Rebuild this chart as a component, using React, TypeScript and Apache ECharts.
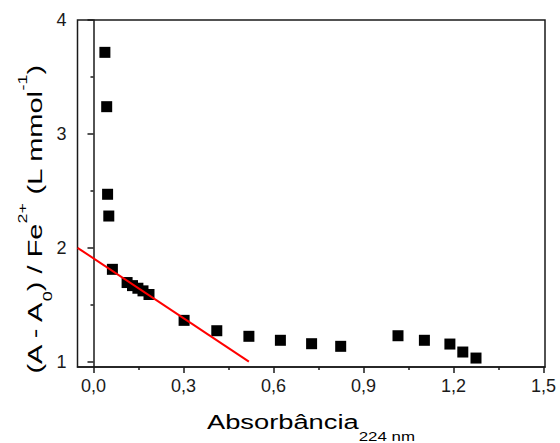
import React, { useEffect, useRef } from "react";
import * as echarts from "echarts";

const xValues = [0.038, 0.044, 0.047, 0.051, 0.063, 0.112, 0.13, 0.148, 0.165, 0.185, 0.302, 0.411, 0.518, 0.623, 0.727, 0.824, 1.015, 1.103, 1.188, 1.231, 1.275];
const yValues = [3.716, 3.239, 2.47, 2.279, 1.811, 1.695, 1.668, 1.645, 1.622, 1.59, 1.363, 1.272, 1.223, 1.188, 1.158, 1.135, 1.228, 1.188, 1.155, 1.085, 1.032];
const fitX = [-0.053, 0.518];
const fitY = [2.0, 1.0];
const xMajorTicks = [0, 0.3, 0.6, 0.9, 1.2, 1.5];
const xMinorTicks = [0.15, 0.45, 0.75, 1.05, 1.35];
const yMajorTicks = [1, 2, 3, 4];
const yMinorTicks = [1.5, 2.5, 3.5];

const FONT = "'Liberation Sans', Arial, Helvetica, sans-serif";
const INK = "#1a1a1a";

export default function App() {
  const ref = useRef<HTMLDivElement>(null);
  useEffect(() => {
    document.body.style.margin = "0";
    if (!ref.current) return;
    const chart = echarts.init(ref.current, undefined, { renderer: "svg" });
    const xMin = -0.0533, xMax = 1.505, yMin = 0.9535, yMax = 4;
    const axisBase = {
      type: "value" as const,
      splitLine: { show: false },
    };
    chart.setOption({
      animation: false,
      grid: {
        left: 77.5, top: 20, right: 15, bottom: 76,
        show: true, borderColor: INK, borderWidth: 1.5,
      },
      xAxis: [
        {
          ...axisBase, min: xMin, max: xMax, position: "bottom",
          axisLine: { show: true, lineStyle: { color: INK, width: 1.5 } },
          axisTick: { show: true, customValues: xMajorTicks, length: 6, lineStyle: { color: INK, width: 1.5 } },
          axisLabel: {
            customValues: xMajorTicks, margin: 10, color: INK, fontSize: 18, fontFamily: FONT,
            formatter: (v: number) => v.toFixed(1).replace(".", ","),
          },
        },
        {
          ...axisBase, min: xMin, max: xMax, position: "bottom",
          axisLine: { show: false },
          axisTick: { show: true, customValues: xMinorTicks, length: 3, lineStyle: { color: INK, width: 1.5 } },
          axisLabel: { show: false },
        },
      ],
      yAxis: [
        {
          ...axisBase, min: yMin, max: yMax, position: "left",
          axisLine: { show: true, lineStyle: { color: INK, width: 1.5 } },
          axisTick: { show: true, customValues: yMajorTicks, length: 6, lineStyle: { color: INK, width: 1.5 } },
          axisLabel: {
            customValues: yMajorTicks, margin: 11, color: INK, fontSize: 18, fontFamily: FONT,
            formatter: (v: number) => String(Math.round(v)),
          },
        },
        {
          ...axisBase, min: yMin, max: yMax, position: "left", offset: 0,
          axisLine: { show: false },
          axisTick: { show: true, customValues: yMinorTicks, length: 3, lineStyle: { color: INK, width: 1.5 } },
          axisLabel: { show: false },
        },
      ],
      series: [
        {
          type: "scatter",
          xAxisIndex: 0, yAxisIndex: 0,
          symbol: "rect", symbolSize: 11,
          itemStyle: { color: "#000", opacity: 1 },
          data: xValues.map((x, i) => [x, yValues[i]]),
          z: 2,
        },
        {
          type: "line",
          xAxisIndex: 0, yAxisIndex: 0,
          showSymbol: false, symbol: "none",
          lineStyle: { color: "#ff0000", width: 2 },
          data: fitX.map((x, i) => [x, fitY[i]]),
          z: 3,
        },
      ],
      graphic: [
        {
          type: "text",
          x: 311, y: 421.7,
          scaleX: 1.3,
          style: {
            text: "{m|Absorbância}{s|224 nm}",
            align: "center", verticalAlign: "middle",
            fill: "#000",
            rich: {
              m: { fontSize: 21, fontFamily: FONT, lineHeight: 42, verticalAlign: "middle", fill: "#000" },
              s: { fontSize: 13, fontFamily: FONT, lineHeight: 14, verticalAlign: "bottom", fill: "#000" },
            },
          },
        },
        {
          type: "text",
          x: 34.5, y: 220,
          rotation: Math.PI / 2,
          scaleX: 1.38,
          style: {
            text: "{m|(A - A}{b|0}{m|) / Fe}{p|2+}{m| (L mmol}{p|-1}{m|)}",
            align: "center", verticalAlign: "middle",
            fill: "#000",
            rich: {
              m: { fontSize: 21, fontFamily: FONT, lineHeight: 38, verticalAlign: "middle", fill: "#000" },
              p: { fontSize: 13, fontFamily: FONT, lineHeight: 13, verticalAlign: "top", fill: "#000" },
              b: { fontSize: 13, fontFamily: FONT, lineHeight: 22, verticalAlign: "bottom", fill: "#000" },
            },
          },
        },
      ],
    });
    return () => chart.dispose();
  }, []);
  return <div ref={ref} style={{ width: 560, height: 443 }} />;
}
